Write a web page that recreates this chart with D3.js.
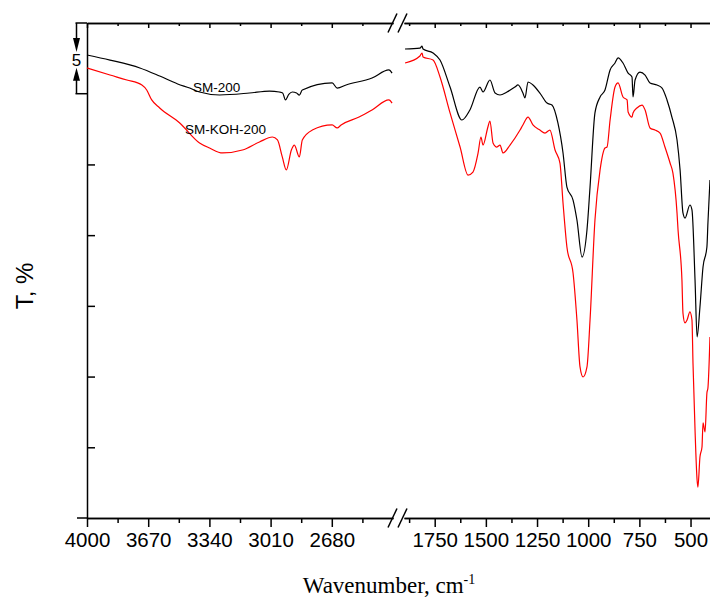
<!DOCTYPE html>
<html>
<head>
<meta charset="utf-8">
<script src="https://cdn.jsdelivr.net/npm/d3@7"></script>
<style>
  body { margin: 0; background: #fff; }
  svg { display: block; }
</style>
</head>
<body>
<div id="chart"></div>
<script>
// FTIR spectra, transmittance in %T units (scale bar = 5)
const smWn = [4000, 3876, 3715, 3608, 3511, 3446, 3393, 3285, 3124, 3016, 2963, 2945, 2930, 2912, 2893, 2870, 2855, 2839, 2678, 2651, 2603, 2463, 2372, 2355,
  1895, 1822, 1812, 1807, 1758, 1724, 1675, 1617, 1578, 1529, 1514, 1480, 1455, 1431, 1397, 1358, 1343, 1319, 1309, 1294, 1270, 1236, 1201, 1177, 1148, 1123, 1104, 1074, 1055, 1030, 1006, 991, 967, 942, 918, 893, 869, 854, 830, 805, 786, 781, 771, 747, 722, 698, 664, 639, 615, 591, 566, 551, 537, 527, 503, 493, 478, 468, 454, 439, 420, 415, 405]
const smT = [32.74, 32.38, 31.82, 31.25, 30.69, 30.40, 30.12, 29.91, 30.05, 30.19, 30.12, 30.05, 29.56, 29.95, 30.12, 30.05, 29.90, 30.26, 30.76, 30.40, 30.62, 31.11, 31.68, 31.46,
  33.16, 33.23, 33.37, 33.16, 32.88, 32.38, 30.47, 28.14, 28.85, 30.47, 30.12, 30.97, 30.05, 29.91, 30.12, 30.47, 30.62, 30.05, 29.70, 30.83, 30.62, 30.05, 29.34, 29.20, 27.93, 25.81, 23.40, 22.48, 21.07, 18.45, 20.36, 23.40, 28.64, 29.77, 30.26, 31.68, 32.17, 32.53, 32.17, 31.46, 31.18, 29.77, 30.97, 31.53, 31.32, 30.76, 30.62, 30.40, 29.56, 28.35, 26.73, 24.61, 21.57, 21.21, 22.13, 21.78, 16.83, 12.80, 14.92, 17.75, 19.16, 20.86, 23.90]

const kohWn = [4000, 3876, 3785, 3704, 3678, 3651, 3608, 3500, 3393, 3339, 3269, 3162, 3070, 3000, 2973, 2947, 2925, 2898, 2882, 2855, 2839, 2785, 2678, 2651, 2630, 2533, 2463, 2372, 2355,
  1895, 1822, 1812, 1807, 1758, 1724, 1675, 1626, 1587, 1563, 1538, 1524, 1514, 1490, 1480, 1465, 1446, 1431, 1416, 1382, 1333, 1319, 1294, 1270, 1236, 1211, 1187, 1162, 1138, 1123, 1104, 1074, 1055, 1040, 1025, 1006, 991, 967, 942, 918, 908, 893, 869, 854, 830, 810, 805, 786, 781, 762, 737, 722, 698, 674, 649, 625, 600, 586, 566, 561, 542, 537, 527, 517, 503, 493, 488, 478, 468, 464, 454, 444, 439, 429, 420, 415, 405]
const kohT = [31.82, 31.32, 30.97, 30.62, 30.26, 29.56, 28.99, 27.93, 26.52, 26.16, 25.81, 26.02, 26.59, 26.94, 26.73, 25.53, 24.61, 26.02, 26.37, 25.53, 26.73, 27.43, 27.79, 27.58, 27.79, 28.35, 28.85, 29.56, 29.34,
  32.17, 32.67, 32.88, 32.60, 32.38, 31.18, 28.64, 26.23, 24.25, 24.46, 25.81, 26.94, 26.37, 27.65, 28.07, 26.52, 26.23, 26.37, 25.81, 26.37, 27.43, 27.79, 28.35, 27.79, 27.43, 27.22, 27.43, 26.02, 25.10, 22.27, 19.16, 17.32, 14.00, 10.68, 9.97, 10.68, 14.00, 21.07, 24.61, 26.16, 26.23, 28.14, 30.47, 30.76, 29.77, 29.56, 28.71, 28.35, 28.64, 28.99, 29.20, 28.85, 27.58, 27.43, 27.22, 26.23, 25.10, 24.39, 21.57, 20.36, 16.83, 14.49, 13.79, 14.00, 14.57, 14.00, 10.96, 6.22, 2.69, 2.19, 4.31, 5.02, 6.72, 6.08, 8.84, 9.19, 12.80]

const highTicks = [4000, 3670, 3340, 3010, 2680]
const highMinor = [3835, 3505, 3175, 2845, 2515]
const lowTicks = [1750, 1500, 1250, 1000, 750, 500]
const lowMinor = [1875, 1625, 1375, 1125, 875, 625]
const yTicks = [5, 10, 15, 20, 25]

const W = 710, H = 599
const TOP = 23, BOTTOM = 518, LEFT = 87

const svg = d3.select("#chart")
  .append("svg")
    .attr("width", W)
    .attr("height", H)
    .style("font-family", "'Liberation Sans', Arial, sans-serif")

// broken x axis: two linear pieces
const xHigh = d3.scaleLinear().domain([4000, 2350]).range([LEFT, 393])
const xLow = d3.scaleLinear().domain([1900, 400]).range([404, 711])
const y = d3.scaleLinear().domain([0, 35]).range([BOTTOM, TOP])

function styleAxis(g) {
  g.selectAll("path, line").attr("stroke", "#000").attr("stroke-width", 1.5)
  g.selectAll("text").attr("fill", "#000").attr("font-size", 20.5)
    .attr("font-family", "'Liberation Sans', Arial, sans-serif")
}

// bottom axes
for (const [sc, major, minor] of [[xHigh, highTicks, highMinor], [xLow, lowTicks, lowMinor]]) {
  svg.append("g")
      .attr("transform", `translate(0,${BOTTOM})`)
      .call(d3.axisBottom(sc).tickValues(minor).tickSize(5).tickSizeOuter(0).tickFormat(""))
      .call(styleAxis)
  svg.append("g")
      .attr("transform", `translate(0,${BOTTOM})`)
      .call(d3.axisBottom(sc).tickValues(major).tickSize(9).tickPadding(5).tickSizeOuter(0).tickFormat(d3.format("d")))
      .call(styleAxis)
  // top axis, ticks pointing in
  svg.append("g")
      .attr("transform", `translate(0,${TOP})`)
      .call(d3.axisTop(sc).tickValues(minor).tickSize(-3).tickSizeOuter(0).tickFormat(""))
      .call(styleAxis)
  svg.append("g")
      .attr("transform", `translate(0,${TOP})`)
      .call(d3.axisTop(sc).tickValues(major).tickSize(-5).tickSizeOuter(0).tickFormat(""))
      .call(styleAxis)
}

// left axis, inner ticks, no labels
svg.append("g")
    .attr("transform", `translate(${LEFT},0)`)
    .call(d3.axisRight(y).tickValues(yTicks).tickSize(8).tickSizeOuter(0).tickFormat(""))
    .call(styleAxis)

// outward tick at bottom-left
svg.append("line")
    .attr("x1", LEFT - 10).attr("x2", LEFT)
    .attr("y1", y(0)).attr("y2", y(0))
    .attr("stroke", "#000").attr("stroke-width", 1.5)

// axis break marks
for (const yy of [TOP, BOTTOM]) {
  for (const dx of [0, 10]) {
    svg.append("line")
        .attr("x1", 388 + dx).attr("y1", yy + 9.5)
        .attr("x2", 397 + dx).attr("y2", yy - 9.5)
        .attr("stroke", "#000").attr("stroke-width", 1.5)
  }
}

// scale bar: 5 units
const sbX = 76.5
const sbTop = y(35), sbBot = y(30)
svg.append("g").attr("stroke", "#000").attr("stroke-width", 1.5)
  .call(g => {
    g.append("line").attr("x1", sbX - 1).attr("x2", LEFT).attr("y1", sbTop).attr("y2", sbTop)
    g.append("line").attr("x1", sbX - 1).attr("x2", LEFT).attr("y1", sbBot).attr("y2", sbBot)
    g.append("line").attr("x1", sbX).attr("x2", sbX).attr("y1", sbTop).attr("y2", sbTop + 16)
    g.append("line").attr("x1", sbX).attr("x2", sbX).attr("y1", sbBot - 14).attr("y2", sbBot)
  })
svg.append("path")
    .attr("d", `M${sbX - 3.5},${sbTop + 15}L${sbX + 3.5},${sbTop + 15}L${sbX},${sbTop + 29}Z`)
    .attr("fill", "#000")
svg.append("path")
    .attr("d", `M${sbX - 3.5},${sbBot - 13}L${sbX + 3.5},${sbBot - 13}L${sbX},${sbBot - 26}Z`)
    .attr("fill", "#000")
svg.append("text")
    .attr("x", sbX).attr("y", sbTop + 43)
    .attr("text-anchor", "middle")
    .attr("font-size", 17)
    .text("5")

// spectra
function drawSeries(wn, t, color) {
  const pts = wn.map((w, i) => ({ w: w, t: t[i] }))
  const hi = pts.filter(d => d.w > 2000)
  const lo = pts.filter(d => d.w < 2000)
  svg.append("path")
      .datum(hi)
      .attr("fill", "none").attr("stroke", color).attr("stroke-width", 1.2)
      .attr("d", d3.line().curve(d3.curveMonotoneX).x(d => xHigh(d.w)).y(d => y(d.t)))
  svg.append("path")
      .datum(lo)
      .attr("fill", "none").attr("stroke", color).attr("stroke-width", 1.2)
      .attr("d", d3.line().curve(d3.curveMonotoneX).x(d => xLow(d.w)).y(d => y(d.t)))
}
drawSeries(smWn, smT, "#000")
drawSeries(kohWn, kohT, "#ff0000")

// curve labels
svg.append("text")
    .attr("x", 193).attr("y", 92)
    .attr("font-size", 13.5)
    .text("SM-200")
svg.append("text")
    .attr("x", 185).attr("y", 134)
    .attr("font-size", 13.5)
    .text("SM-KOH-200")

// axis titles
svg.append("text")
    .attr("transform", "translate(33,286) rotate(-90)")
    .attr("text-anchor", "middle")
    .attr("font-size", 24)
    .text("T, %")

const xt = svg.append("text")
    .attr("x", 389).attr("y", 593)
    .attr("text-anchor", "middle")
    .attr("font-family", "'Liberation Serif', 'Times New Roman', serif")
    .attr("font-size", 23)
xt.append("tspan").text("Wavenumber, cm")
xt.append("tspan").attr("dy", -9).attr("font-size", 14).text("-1")
</script>
</body>
</html>
